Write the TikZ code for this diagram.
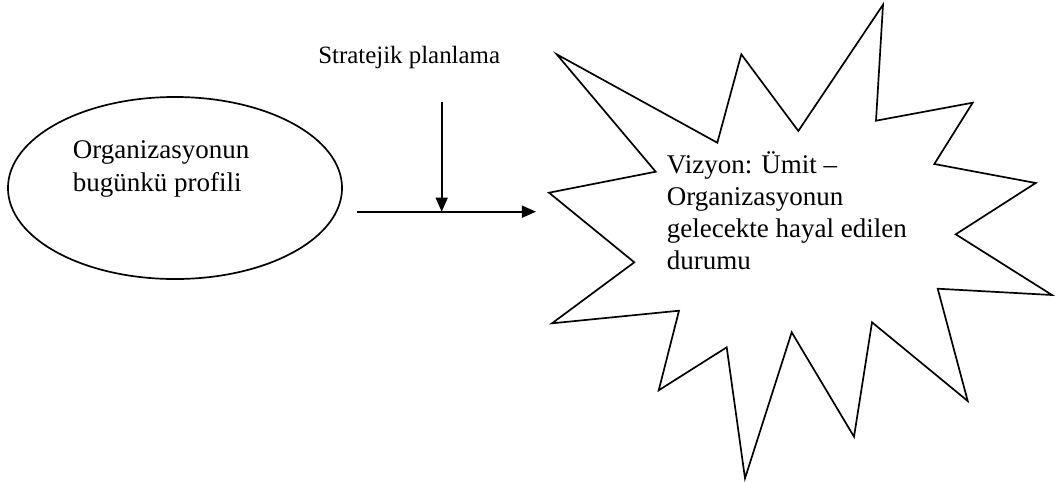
\documentclass[tikz,border=0pt]{standalone}
\usepackage{fontspec}
\setmainfont{Liberation Serif}
\usetikzlibrary{shapes,arrows.meta,positioning}
\tikzset{
  metin/.style = {align=left, inner sep=0pt,
    font=\fontsize{19.2}{22.8}\selectfont},% elips ve yildiz icindeki yazi
  baslik/.style = {inner sep=0pt, font=\fontsize{17.7}{21}\selectfont},% ok ustundeki yazi
  profil/.style = {ellipse, draw=black, line width=1.2pt,
    minimum width=8.35cm, minimum height=4.55cm},% bugunku durum
  yildiz/.style = {draw=black, fill=white, line width=1.2pt, line join=miter},% vizyon
  ok/.style = {-{Triangle[length=10pt,width=8.5pt]}, line width=1.2pt}
}

\begin{document}
\begin{tikzpicture}[x=0.025cm,y=-0.025cm]
        \useasboundingbox (0,0) rectangle (1056,481);
        % sol: elips
        \node [profil](P) at (175,188) {};
        \node [metin, anchor=base west](PT) at (72.7,191) {Organizasyonun\\bugünkü profili};
        % sag: yildiz
        \draw [yildiz] (556.7,54.3) -- (717.3,142.7) -- (741.3,54.3) -- (798.3,131)
            -- (883,4.7) -- (876,120.7) -- (972.7,102.7) -- (934.3,164)
            -- (1035.7,183) -- (955.7,234.3) -- (1052,295) -- (937.7,288.7)
            -- (967.7,401) -- (872,322.3) -- (854,436.7) -- (791.7,332.3)
            -- (745,478.3) -- (726.7,347.3) -- (658.7,390.3) -- (679,310.7)
            -- (552,323.3) -- (634.3,262.3) -- (549,192.7) -- (655.7,171.7) -- cycle;
        \node [metin, anchor=base west](V) at (666.7,269.5)
            {Vizyon: Ümit –\\Organizasyonun\\gelecekte hayal edilen\\durumu};
        % ortada: oklar
        \node [baslik, anchor=base west](S) at (318,63) {Stratejik planlama};
        \coordinate [right= 0.35cm of P.east] (A);
        \coordinate (B) at (536,211.7);
        \coordinate (C) at (441.7,101.7);
        \coordinate (D) at (C |- B);
        \draw [ok] (A |- B) -- (B);
        \draw [ok] (C) -- (D);
\end{tikzpicture}
\end{document}
